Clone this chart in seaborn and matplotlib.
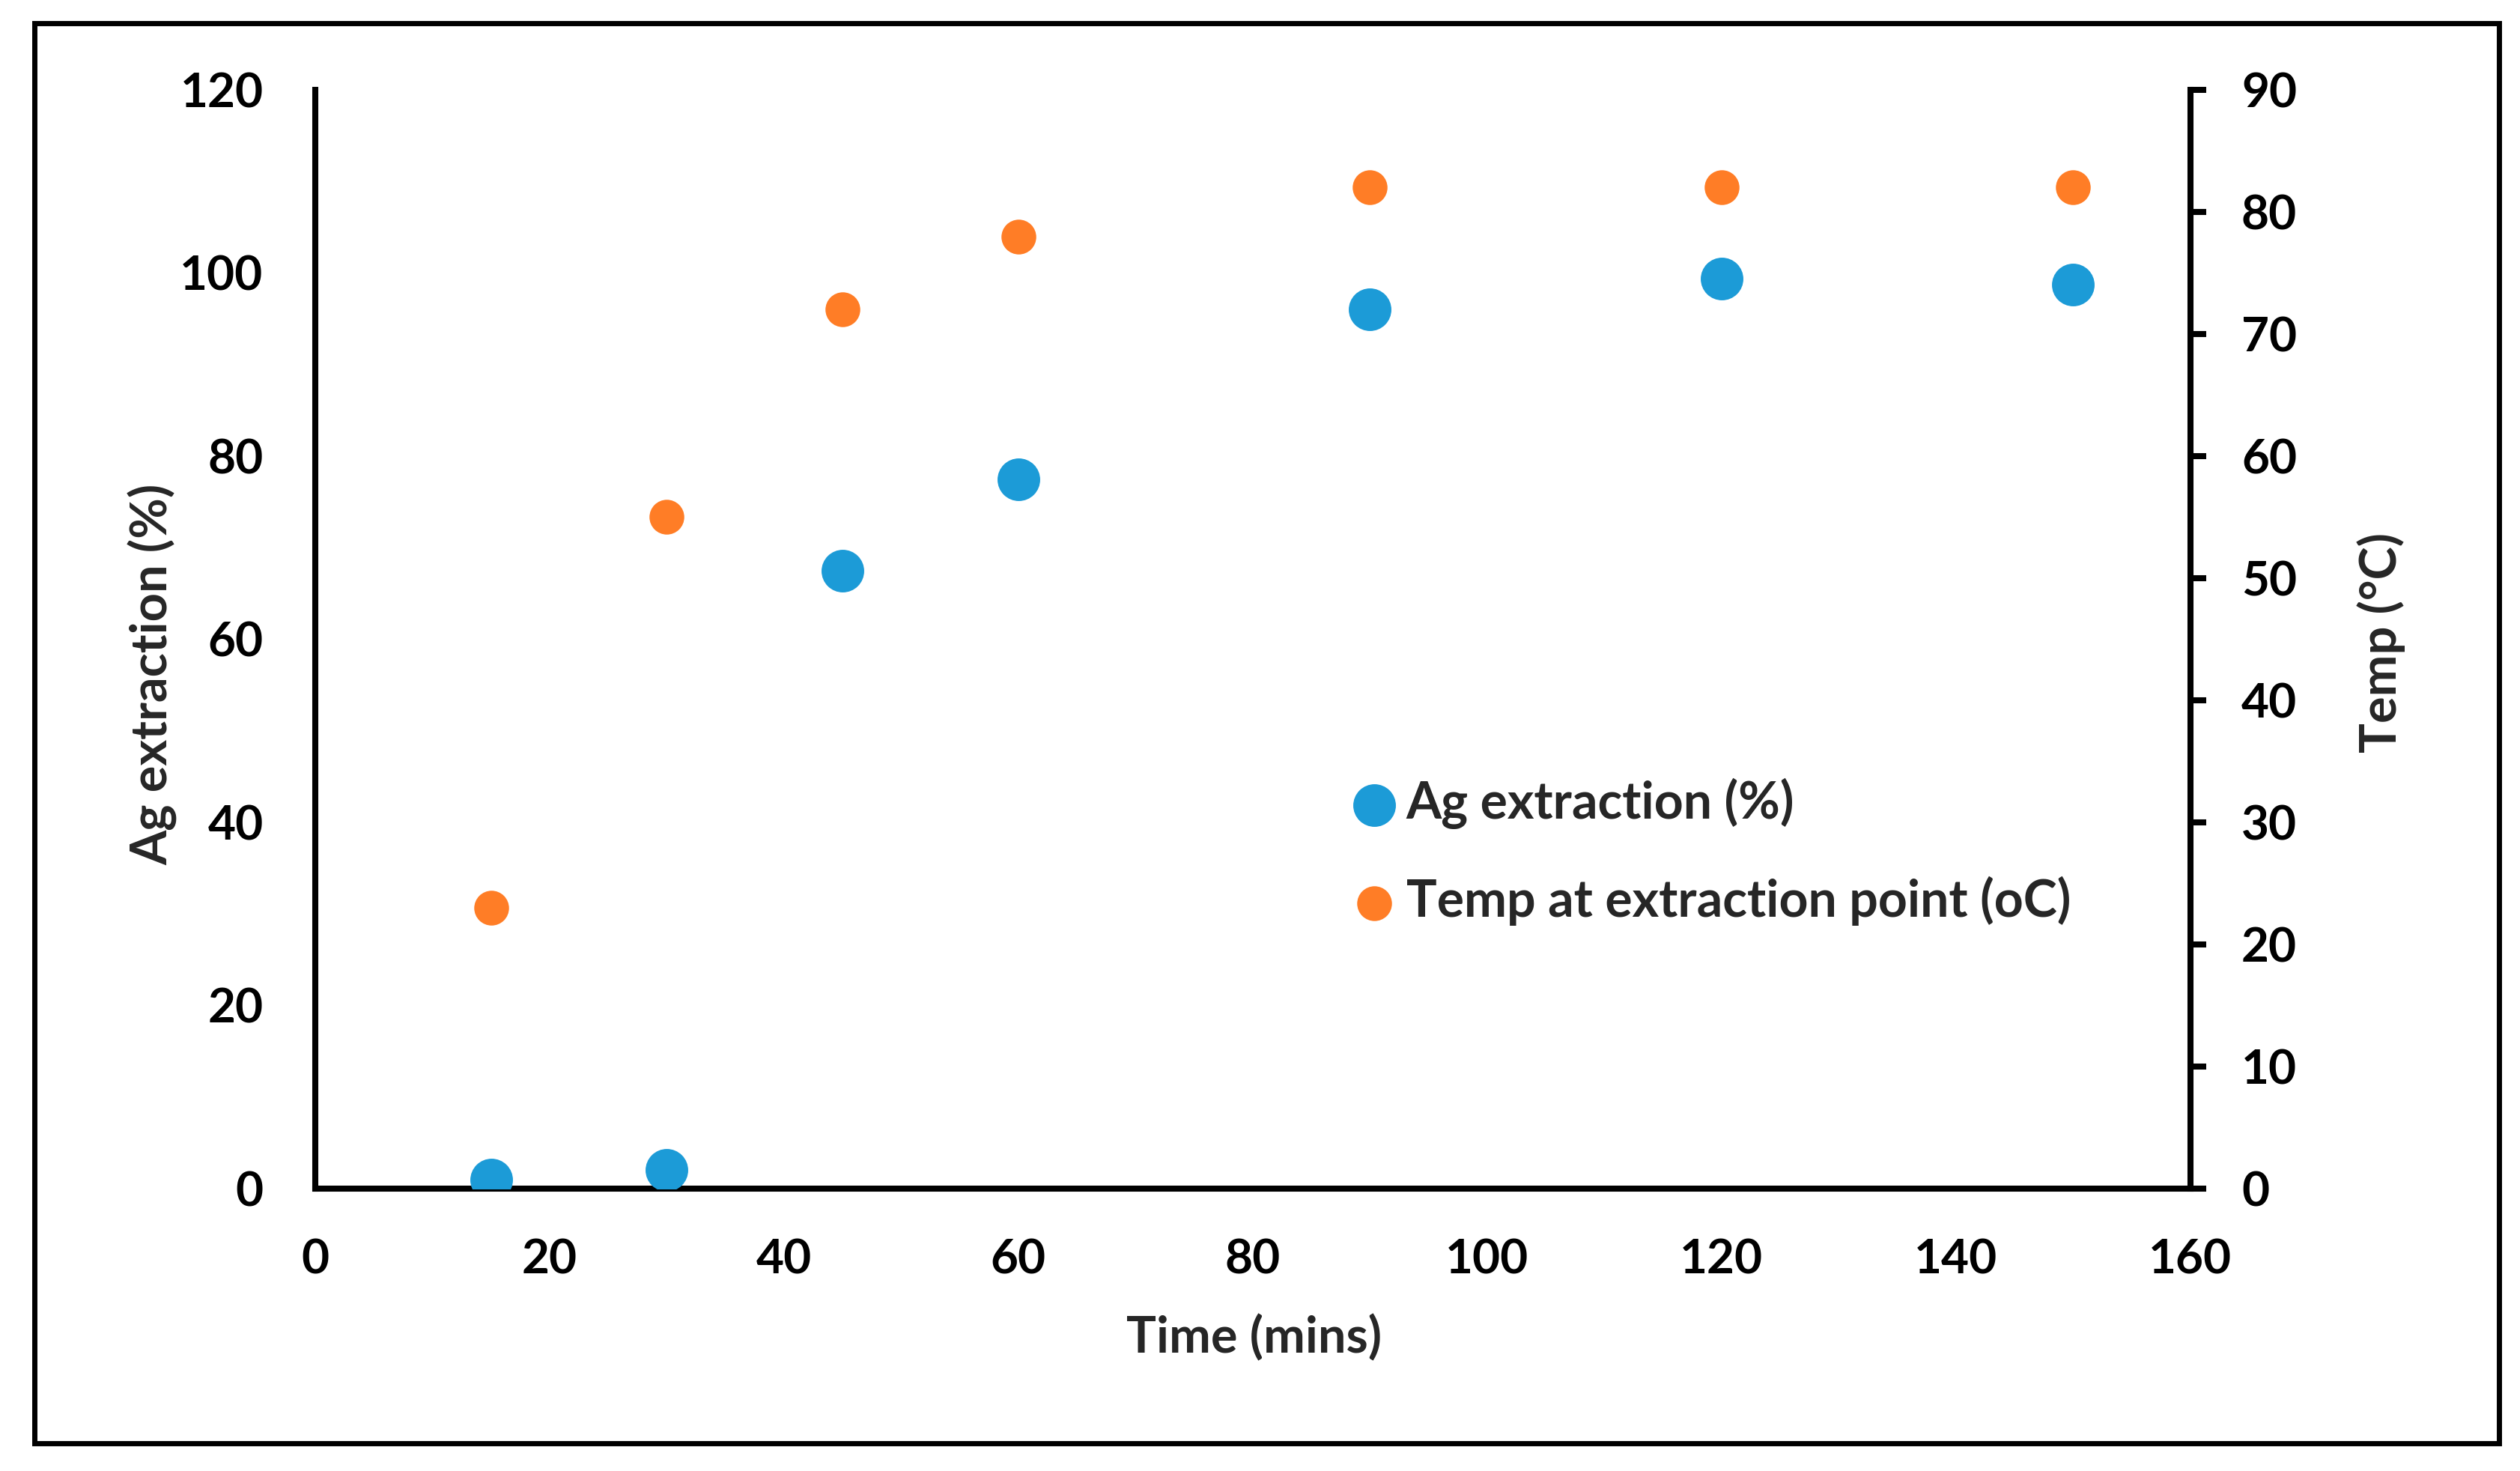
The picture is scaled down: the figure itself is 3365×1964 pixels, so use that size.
import matplotlib
matplotlib.use("Agg")
import matplotlib.pyplot as plt
import seaborn as sns
import pandas as pd
from matplotlib.patches import Rectangle

# ---- data ----
time_mins = [15, 30, 45, 60, 90, 120, 150]
ag_extraction = [1.0, 2.0, 67.5, 77.5, 96.0, 99.4, 98.7]
temp_c = [23, 55, 72, 78, 82, 82, 82]
x_ticks = [0, 20, 40, 60, 80, 100, 120, 140, 160]
y_left_ticks = [0, 20, 40, 60, 80, 100, 120]
y_right_ticks = [0, 10, 20, 30, 40, 50, 60, 70, 80, 90]
label_ag = "Ag extraction (%)"
label_temp = "Temp at extraction point (oC)"

df = pd.DataFrame({"time": time_mins, "ag": ag_extraction, "temp": temp_c})

sns.set_theme(style="white")
plt.rcParams["font.family"] = ["Lato", "DejaVu Sans"]
plt.rcParams["font.weight"] = "bold"

BLUE = "#1C9BD7"
ORANGE = "#FF7D26"
FS_TICK = 46
FS_LABEL = 48
FS_LEG = 49
SPINE_W = 5.8

fig = plt.figure(figsize=(33.65, 19.64), dpi=100)
ax = fig.add_axes([0.1251, 0.1920, 0.8692 - 0.1251, 0.9389 - 0.1920])
ax2 = ax.twinx()

sns.scatterplot(data=df, x="time", y="ag", ax=ax, color=BLUE, s=1680,
                linewidth=0, label=label_ag, legend=False, zorder=3)
sns.scatterplot(data=df, x="time", y="temp", ax=ax2, color=ORANGE, s=1120,
                linewidth=0, label=label_temp, legend=False, zorder=3)

ax.set_xlim(0, 160)
ax.set_ylim(0, 120)
ax2.set_ylim(0, 90)
ax.set_xticks(x_ticks)
ax.set_yticks(y_left_ticks)
ax2.set_yticks(y_right_ticks)

for a in (ax, ax2):
    for s in a.spines.values():
        s.set_visible(False)
ax.spines["left"].set_visible(True)
ax.spines["bottom"].set_visible(True)
ax2.spines["right"].set_visible(True)
for s in (ax.spines["left"], ax.spines["bottom"], ax2.spines["right"]):
    s.set_linewidth(SPINE_W)
    s.set_color("black")
    s.set_capstyle("projecting")

ax.tick_params(axis="x", length=0, pad=48, labelsize=FS_TICK, colors="black")
ax.tick_params(axis="y", length=0, pad=50, labelsize=FS_TICK, colors="black")
ax2.tick_params(axis="y", direction="out", length=15, width=SPINE_W, pad=34,
                labelsize=FS_TICK, colors="black")
ax.grid(False)
ax2.grid(False)

ax.set_xlabel("Time (mins)", fontsize=FS_LABEL, fontweight="bold", va="center")
ax.set_ylabel("Ag extraction (%)", fontsize=FS_LABEL, fontweight="bold", va="center")
ax2.set_ylabel("Temp (°C)", fontsize=FS_LABEL, fontweight="bold", va="center",
               rotation=90)
ax.xaxis.set_label_coords(0.5008, -0.1363)
ax.yaxis.set_label_coords(-0.0867, 0.468)
ax2.yaxis.set_label_coords(1.1018, 0.497)

handles = [ax.collections[0], ax2.collections[0]]
fig.legend(handles, [label_ag, label_temp], loc="upper left",
           bbox_to_anchor=(0.5356, 0.4712), bbox_transform=fig.transFigure,
           frameon=False, handlelength=0.96,
           handletextpad=0.15, labelspacing=0.92, borderpad=0,
           borderaxespad=0, prop={"weight": "bold", "size": FS_LEG})

# outer border
fig.patches.append(Rectangle((0.0137, 0.0188), 0.9917 - 0.0137, 0.9842 - 0.0188,
                             transform=fig.transFigure, fill=False,
                             edgecolor="black", linewidth=5, zorder=10))

fig.savefig("out.png", dpi=100, facecolor="white")
